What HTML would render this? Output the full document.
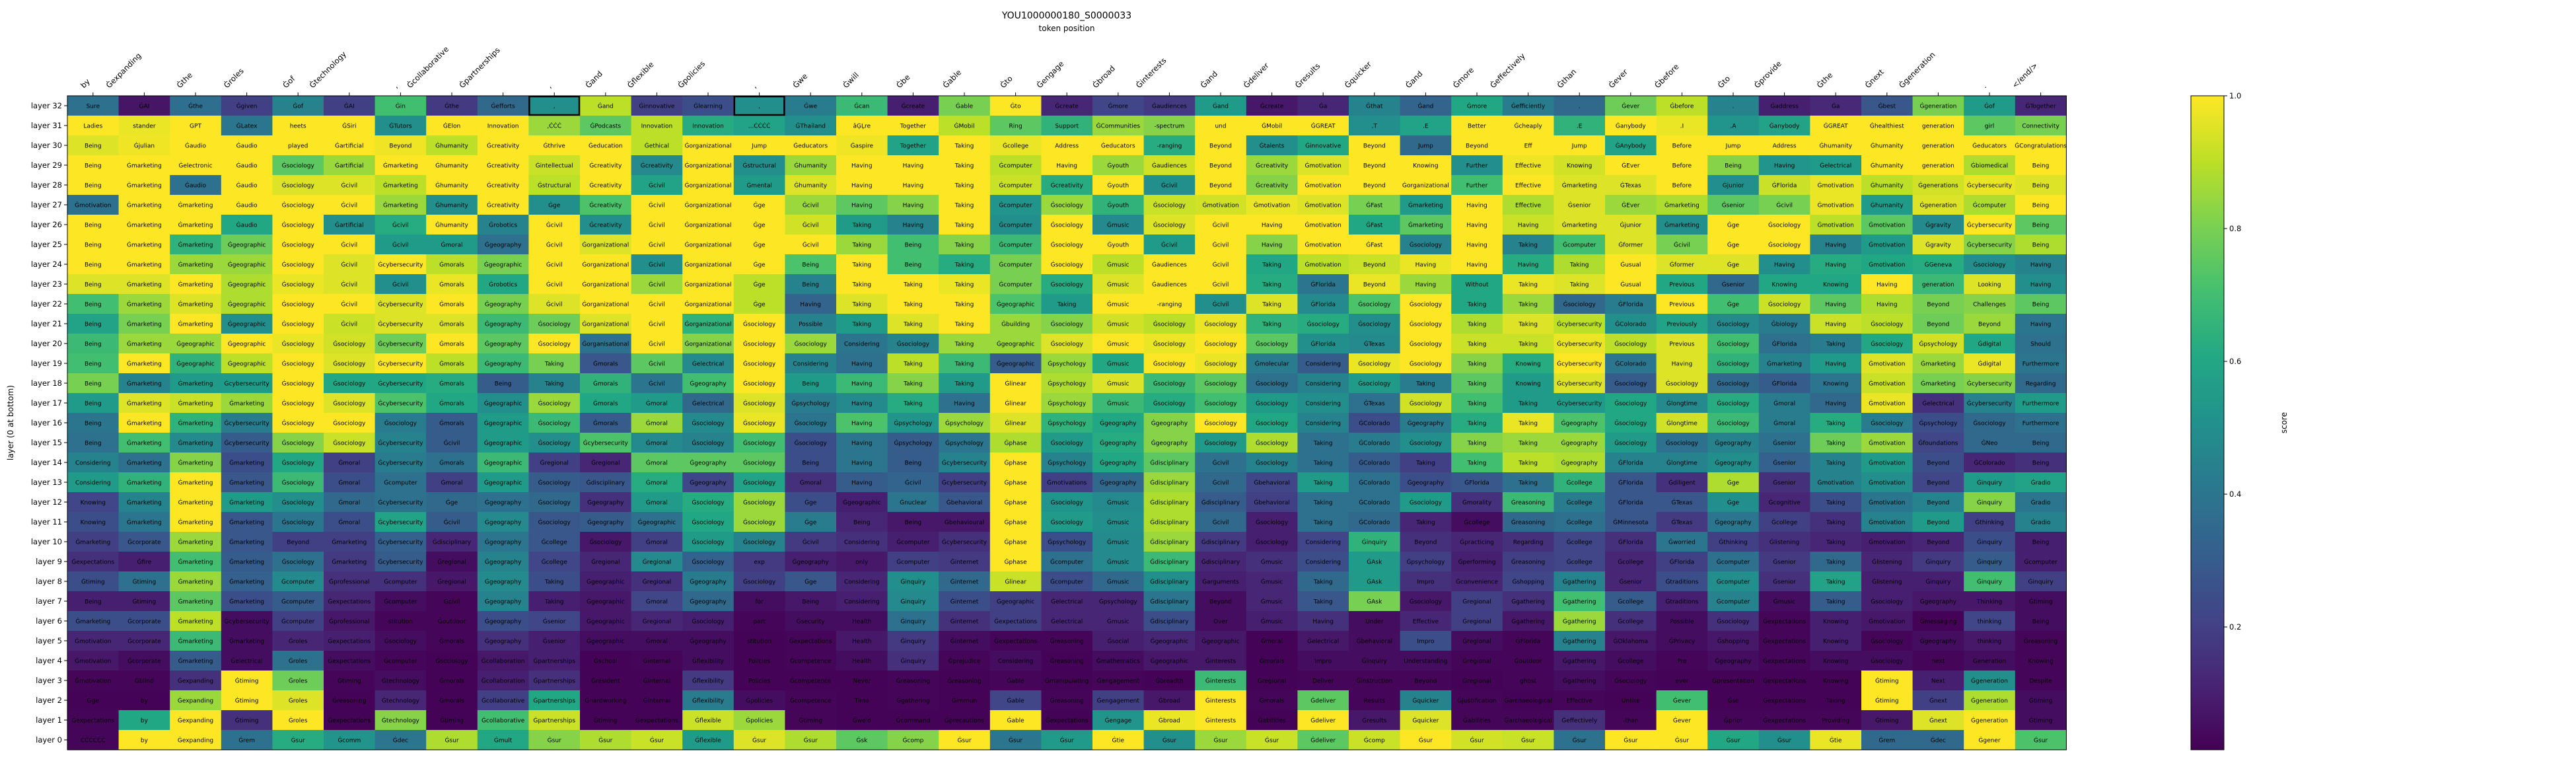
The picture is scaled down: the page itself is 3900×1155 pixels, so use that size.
<!DOCTYPE html>
<html><head><meta charset="utf-8"><title>YOU1000000180_S0000033</title>
<style>
html,body{margin:0;padding:0;background:#fff;}
svg{display:block;font-family:"DejaVu Sans","Liberation Sans",sans-serif;}
</style></head>
<body>
<svg id="chart" width="3900" height="1155" viewBox="0 0 3900 1155" xmlns="http://www.w3.org/2000/svg">
<text x="1615" y="28" font-size="14" text-anchor="middle">YOU1000000180_S0000033</text>
<text x="1615" y="47" font-size="12" text-anchor="middle">token position</text>
<text x="20" y="640" font-size="12" text-anchor="middle" transform="rotate(-90 20 640)">layer (0 at bottom)</text>
<text x="3462" y="640" font-size="12" text-anchor="middle" transform="rotate(-90 3462 640)">score</text>
<g id="cells"></g>
<g id="xlabels"></g>
<g id="ylabels"></g>
<g id="cbar"></g>
</svg>
<script>
const colTokens = ["by","Ġexpanding","Ġthe","Ġroles","Ġof","Ġtechnology",",","Ġcollaborative","Ġpartnerships",",","Ġand","Ġflexible","Ġpolicies",",","Ġwe","Ġwill","Ġbe","Ġable","Ġto","Ġengage","Ġbroad","Ġinterests","Ġand","Ġdeliver","Ġresults","Ġquicker","Ġand","Ġmore","Ġeffectively","Ġthan","Ġever","Ġbefore","Ġto","Ġprovide","Ġthe","Ġnext","Ġgeneration",".","</end/>"];
// rows listed from layer 32 (top) down to layer 0
const cellTokens = [
"Sure|ĠAI|Ġthe|Ġgiven|Ġof|ĠAI|Ġin|Ġthe|Ġefforts|,|Ġand|Ġinnovative|Ġlearning|,|Ġwe|Ġcan|Ġcreate|Ġable|Ġto|Ġcreate|Ġmore|Ġaudiences|Ġand|Ġcreate|Ġa|Ġthat|Ġand|Ġmore|Ġefficiently|.|Ġever|Ġbefore|.|Ġaddress|Ġa|Ġbest|Ġgeneration|Ġof|ĠTogether",
"Ladies|stander|GPT|ĠLatex|heets|ĠSiri|ĠTutors|ĠElon|Innovation|,ĊĊĊ|ĠPodcasts|Innovation|Innovation|...ĊĊĊĊ|ĠThailand|âĢĻre|Together|ĠMobil|Ring|Support|ĠCommunities|-spectrum|und|ĠMobil|ĠGREAT|.T|.E|Better|Ġcheaply|.E|Ġanybody|.I|.A|Ġanybody|ĠGREAT|Ġhealthiest|generation|girl|Connectivity",
"Being|Ġjulian|Ġaudio|Ġaudio|played|Ġartificial|Beyond|Ġhumanity|Ġcreativity|Ġthrive|Ġeducation|Ġethical|Ġorganizational|Jump|Ġeducators|Ġaspire|Together|Taking|Ġcollege|Address|Ġeducators|-ranging|Beyond|Ġtalents|Ġinnovative|Beyond|Jump|Beyond|Eff|Jump|ĠAnybody|Before|Jump|Address|Ġhumanity|Ġhumanity|generation|Ġeducators|ĠCongratulations",
"Being|Ġmarketing|Ġelectronic|Ġaudio|Ġsociology|Ġartificial|Ġmarketing|Ġhumanity|Ġcreativity|Ġintellectual|Ġcreativity|Ġcreativity|Ġorganizational|Ġstructural|Ġhumanity|Having|Having|Taking|Ġcomputer|Having|Ġyouth|Ġaudiences|Beyond|Ġcreativity|Ġmotivation|Beyond|Knowing|Further|Effective|Knowing|ĠEver|Before|Being|Having|Ġelectrical|Ġhumanity|generation|Ġbiomedical|Being",
"Being|Ġmarketing|Ġaudio|Ġaudio|Ġsociology|Ġcivil|Ġmarketing|Ġhumanity|Ġcreativity|Ġstructural|Ġcreativity|Ġcivil|Ġorganizational|Ġmental|Ġhumanity|Having|Having|Taking|Ġcomputer|Ġcreativity|Ġyouth|Ġcivil|Beyond|Ġcreativity|Ġmotivation|Beyond|Ġorganizational|Further|Effective|Ġmarketing|ĠTexas|Before|Ġjunior|ĠFlorida|Ġmotivation|Ġhumanity|Ġgenerations|Ġcybersecurity|Being",
"Ġmotivation|Ġmarketing|Ġmarketing|Ġaudio|Ġsociology|Ġcivil|Ġmarketing|Ġhumanity|Ġcreativity|Ġge|Ġcreativity|Ġcivil|Ġorganizational|Ġge|Ġcivil|Having|Having|Taking|Ġcomputer|Ġsociology|Ġyouth|Ġsociology|Ġmotivation|Ġmotivation|Ġmotivation|ĠFast|Ġmarketing|Having|Effective|Ġsenior|ĠEver|Ġmarketing|Ġsenior|Ġcivil|Ġmotivation|Ġhumanity|Ġgeneration|Ġcomputer|Being",
"Being|Ġmarketing|Ġmarketing|Ġaudio|Ġsociology|Ġartificial|Ġcivil|Ġhumanity|Ġrobotics|Ġcivil|Ġcreativity|Ġcivil|Ġorganizational|Ġge|Ġcivil|Taking|Having|Taking|Ġcomputer|Ġsociology|Ġmusic|Ġsociology|Ġcivil|Having|Ġmotivation|ĠFast|Ġmarketing|Having|Having|Ġmarketing|Ġjunior|Ġmarketing|Ġge|Ġsociology|Ġmotivation|Ġmotivation|Ġgravity|Ġcybersecurity|Being",
"Being|Ġmarketing|Ġmarketing|Ġgeographic|Ġsociology|Ġcivil|Ġcivil|Ġmoral|Ġgeography|Ġcivil|Ġorganizational|Ġcivil|Ġorganizational|Ġge|Ġcivil|Taking|Being|Taking|Ġcomputer|Ġsociology|Ġyouth|Ġcivil|Ġcivil|Having|Ġmotivation|ĠFast|Ġsociology|Having|Taking|Ġcomputer|Ġformer|Ġcivil|Ġge|Ġsociology|Having|Ġmotivation|Ġgravity|Ġcybersecurity|Being",
"Being|Ġmarketing|Ġmarketing|Ġgeographic|Ġsociology|Ġcivil|Ġcybersecurity|Ġmorals|Ġgeographic|Ġcivil|Ġorganizational|Ġcivil|Ġorganizational|Ġge|Being|Taking|Being|Taking|Ġcomputer|Ġsociology|Ġmusic|Ġaudiences|Ġcivil|Taking|Ġmotivation|Beyond|Having|Having|Having|Taking|Ġusual|Ġformer|Ġge|Having|Having|Ġmotivation|ĠGeneva|Ġsociology|Having",
"Being|Ġmarketing|Ġmarketing|Ġgeographic|Ġsociology|Ġcivil|Ġcivil|Ġmorals|Ġrobotics|Ġcivil|Ġorganizational|Ġcivil|Ġorganizational|Ġge|Being|Taking|Taking|Taking|Ġcomputer|Ġsociology|Ġmusic|Ġaudiences|Ġcivil|Taking|ĠFlorida|Beyond|Having|Without|Taking|Taking|Ġusual|Previous|Ġsenior|Knowing|Knowing|Having|generation|Looking|Having",
"Being|Ġmarketing|Ġmarketing|Ġgeographic|Ġsociology|Ġcivil|Ġcybersecurity|Ġmorals|Ġgeography|Ġcivil|Ġorganizational|Ġcivil|Ġorganizational|Ġge|Having|Taking|Taking|Taking|Ġgeographic|Taking|Ġmusic|-ranging|Ġcivil|Taking|ĠFlorida|Ġsociology|Ġsociology|Taking|Taking|Ġsociology|ĠFlorida|Previous|Ġge|Ġsociology|Having|Having|Beyond|Challenges|Being",
"Being|Ġmarketing|Ġmarketing|Ġgeographic|Ġsociology|Ġcivil|Ġcybersecurity|Ġmorals|Ġgeography|Ġsociology|Ġorganizational|Ġcivil|Ġorganizational|Ġsociology|Possible|Taking|Taking|Taking|Ġbuilding|Ġsociology|Ġmusic|Ġsociology|Ġsociology|Taking|Ġsociology|Ġsociology|Ġsociology|Taking|Taking|Ġcybersecurity|ĠColorado|Previously|Ġsociology|Ġbiology|Having|Ġsociology|Beyond|Beyond|Having",
"Being|Ġmarketing|Ġgeographic|Ġgeographic|Ġsociology|Ġsociology|Ġcybersecurity|Ġmorals|Ġgeography|Ġsociology|Ġorganisational|Ġcivil|Ġorganizational|Ġsociology|Ġsociology|Considering|Ġsociology|Taking|Ġgeographic|Ġsociology|Ġmusic|Ġsociology|Ġsociology|Ġsociology|ĠFlorida|ĠTexas|Ġsociology|Taking|Taking|Ġcybersecurity|Ġsociology|Previous|Ġsociology|ĠFlorida|Taking|Ġsociology|Ġpsychology|Ġdigital|Should",
"Being|Ġmarketing|Ġgeographic|Ġgeographic|Ġsociology|Ġsociology|Ġcybersecurity|Ġmorals|Ġgeography|Taking|Ġmorals|Ġcivil|Ġelectrical|Ġsociology|Considering|Having|Taking|Taking|Ġgeographic|Ġpsychology|Ġmusic|Ġsociology|Ġsociology|Ġmolecular|Considering|Ġsociology|Ġsociology|Taking|Knowing|Ġcybersecurity|ĠColorado|Having|Ġsociology|Ġmarketing|Having|Ġmotivation|Ġmarketing|Ġdigital|Furthermore",
"Being|Ġmarketing|Ġmarketing|Ġcybersecurity|Ġsociology|Ġsociology|Ġcybersecurity|Ġmorals|Being|Taking|Ġmorals|Ġcivil|Ġgeography|Ġsociology|Being|Having|Taking|Taking|Ġlinear|Ġpsychology|Ġmusic|Ġsociology|Ġsociology|Ġsociology|Considering|Ġsociology|Taking|Taking|Knowing|Ġcybersecurity|Ġsociology|Ġsociology|Ġsociology|ĠFlorida|Knowing|Ġmotivation|Ġmarketing|Ġcybersecurity|Regarding",
"Being|Ġmarketing|Ġmarketing|Ġmarketing|Ġsociology|Ġsociology|Ġcybersecurity|Ġmorals|Ġgeographic|Ġsociology|Ġmorals|Ġmoral|Ġelectrical|Ġsociology|Ġpsychology|Having|Taking|Having|Ġlinear|Ġpsychology|Ġmusic|Ġsociology|Ġsociology|Ġsociology|Considering|ĠTexas|Ġsociology|Taking|Taking|Ġcybersecurity|Ġsociology|Ġlongtime|Ġsociology|Ġmoral|Having|Ġmotivation|Ġelectrical|Ġcybersecurity|Furthermore",
"Being|Ġmarketing|Ġmarketing|Ġcybersecurity|Ġsociology|Ġsociology|Ġsociology|Ġmorals|Ġgeographic|Ġsociology|Ġmorals|Ġmoral|Ġsociology|Ġsociology|Ġsociology|Having|Ġpsychology|Ġpsychology|Ġlinear|Ġpsychology|Ġgeography|Ġgeography|Ġsociology|Ġsociology|Considering|ĠColorado|Ġgeography|Taking|Taking|Ġgeography|Ġsociology|Ġlongtime|Ġsociology|Ġmoral|Taking|Ġsociology|Ġpsychology|Ġsociology|Furthermore",
"Being|Ġmarketing|Ġmarketing|Ġcybersecurity|Ġsociology|Ġsociology|Ġcybersecurity|Ġcivil|Ġgeographic|Ġsociology|Ġcybersecurity|Ġmoral|Ġsociology|Ġsociology|Ġsociology|Having|Ġpsychology|Ġpsychology|Ġphase|Ġsociology|Ġgeography|Ġgeography|Ġsociology|Ġsociology|Taking|ĠColorado|Ġsociology|Taking|Taking|Ġgeography|Ġsociology|Ġsociology|Ġgeography|Ġsenior|Taking|Ġmotivation|Ġfoundations|ĠNeo|Being",
"Considering|Ġmarketing|Ġmarketing|Ġmarketing|Ġsociology|Ġmoral|Ġcybersecurity|Ġmorals|Ġgeographic|Ġregional|Ġregional|Ġmoral|Ġgeography|Ġsociology|Being|Having|Being|Ġcybersecurity|Ġphase|Ġpsychology|Ġgeography|Ġdisciplinary|Ġcivil|Ġsociology|Taking|ĠColorado|Taking|Taking|Taking|Ġgeography|ĠFlorida|Ġlongtime|Ġgeography|Ġsenior|Taking|Ġmotivation|Beyond|ĠColorado|Being",
"Considering|Ġmarketing|Ġmarketing|Ġmarketing|Ġsociology|Ġmoral|Ġcomputer|Ġmoral|Ġgeographic|Ġsociology|Ġdisciplinary|Ġmoral|Ġgeography|Ġsociology|Ġmoral|Having|Ġcivil|Ġcybersecurity|Ġphase|Ġmotivations|Ġgeography|Ġdisciplinary|Ġcivil|Ġbehavioral|Taking|ĠColorado|Ġgeography|ĠFlorida|Taking|Ġcollege|ĠFlorida|Ġdiligent|Ġge|Ġsenior|Ġmotivation|Ġmotivation|Beyond|Ġinquiry|Ġradio",
"Knowing|Ġmarketing|Ġmarketing|Ġmarketing|Ġsociology|Ġmoral|Ġcybersecurity|Ġge|Ġgeography|Ġsociology|Ġgeography|Ġmoral|Ġsociology|Ġsociology|Ġge|Ġgeographic|Ġnuclear|Ġbehavioral|Ġphase|Ġsociology|Ġmusic|Ġdisciplinary|Ġdisciplinary|Ġbehavioral|Taking|ĠColorado|Ġsociology|Ġmorality|Ġreasoning|Ġcollege|ĠFlorida|ĠTexas|Ġge|Ġcognitive|Taking|Ġmotivation|Beyond|Ġinquiry|Ġradio",
"Knowing|Ġmarketing|Ġmarketing|Ġmarketing|Ġsociology|Ġmoral|Ġcybersecurity|Ġcivil|Ġgeography|Ġsociology|Ġgeography|Ġgeographic|Ġsociology|Ġsociology|Ġge|Being|Being|Ġbehavioural|Ġphase|Ġsociology|Ġmusic|Ġdisciplinary|Ġcivil|Ġsociology|Taking|ĠColorado|Taking|Ġcollege|Ġreasoning|Ġcollege|ĠMinnesota|ĠTexas|Ġgeography|Ġcollege|Taking|Ġmotivation|Beyond|Ġthinking|Ġradio",
"Ġmarketing|Ġcorporate|Ġmarketing|Ġmarketing|Beyond|Ġmarketing|Ġcybersecurity|Ġdisciplinary|Ġgeography|Ġcollege|Ġsociology|Ġmoral|Ġsociology|Ġsociology|Ġcivil|Considering|Ġcomputer|Ġcybersecurity|Ġphase|Ġpsychology|Ġmusic|Ġdisciplinary|Ġdisciplinary|Ġsociology|Considering|Ġinquiry|Beyond|Ġpracticing|Regarding|Ġcollege|ĠFlorida|Ġworried|Ġthinking|Ġlistening|Taking|Ġmotivation|Beyond|Ġinquiry|Being",
"Ġexpectations|Ġfire|Ġmarketing|Ġmarketing|Ġsociology|Ġmarketing|Ġcybersecurity|Ġregional|Ġgeography|Ġcollege|Ġregional|Ġregional|Ġsociology|exp|Ġgeography|only|Ġcomputer|Ġinternet|Ġphase|Ġcomputer|Ġmusic|Ġdisciplinary|Ġdisciplinary|Ġmusic|Considering|ĠAsk|Ġpsychology|Ġperforming|Ġreasoning|Ġcollege|Ġcollege|ĠFlorida|Ġcomputer|Ġsenior|Taking|Ġlistening|Ġinquiry|Ġinquiry|Ġcomputer",
"Ġtiming|Ġtiming|Ġmarketing|Ġmarketing|Ġcomputer|Ġprofessional|Ġcomputer|Ġregional|Ġgeography|Taking|Ġgeographic|Ġregional|Ġgeography|Ġsociology|Ġge|Considering|Ġinquiry|Ġinternet|Ġlinear|Ġcomputer|Ġmusic|Ġdisciplinary|Ġarguments|Ġmusic|Taking|ĠAsk|Impro|Ġconvenience|Ġshopping|Ġgathering|Ġsenior|Ġtraditions|Ġcomputer|Ġsenior|Taking|Ġlistening|Ġinquiry|Ġinquiry|Ġinquiry",
"Being|Ġtiming|Ġmarketing|Ġmarketing|Ġcomputer|Ġexpectations|Ġcomputer|Ġcivil|Ġgeography|Taking|Ġgeographic|Ġmoral|Ġgeography|for|Being|Considering|Ġinquiry|Ġinternet|Ġgeographic|Ġelectrical|Ġpsychology|Ġdisciplinary|Beyond|Ġmusic|Taking|ĠAsk|Ġsociology|Ġregional|Ġgathering|Ġgathering|Ġcollege|Ġtraditions|Ġcomputer|Ġmusic|Taking|Ġsociology|Ġgeography|Thinking|Ġtiming",
"Ġmarketing|Ġcorporate|Ġmarketing|Ġcybersecurity|Ġcomputer|Ġprofessional|stitution|Ġoutdoor|Ġgeography|Ġsenior|Ġgeographic|Ġregional|Ġsociology|part|Ġsecurity|Health|Ġinquiry|Ġinternet|Ġexpectations|Ġelectrical|Ġmusic|Ġdisciplinary|Over|Ġmusic|Having|Under|Effective|Ġregional|Ġgathering|Ġgathering|Ġcollege|Possible|Ġsociology|Ġexpectations|Knowing|Ġmotivation|Ġmessaging|thinking|Being",
"Ġmotivation|Ġcorporate|Ġmarketing|Ġmarketing|Ġroles|Ġexpectations|Ġsociology|Ġmorals|Ġgeography|Ġsenior|Ġgeographic|Ġmoral|Ġgeography|stitution|Ġexpectations|Health|Ġinquiry|Ġinternet|Ġexpectations|Ġreasoning|Ġsocial|Ġgeographic|Ġgeographic|Ġmoral|Ġelectrical|Ġbehavioral|Impro|Ġregional|ĠFlorida|Ġgathering|ĠOklahoma|ĠPrivacy|Ġshopping|Ġexpectations|Knowing|Ġsociology|Ġgeography|thinking|Ġreasoning",
"Ġmotivation|Ġcorporate|Ġmarketing|Ġelectrical|Ġroles|Ġexpectations|Ġcomputer|Ġsociology|Ġcollaboration|Ġpartnerships|Ġschool|Ġinternal|Ġflexibility|Policies|Ġcompetence|Health|Ġinquiry|Ġprejudice|Considering|Ġreasoning|Ġmathematics|Ġgeographic|Ġinterests|Ġmorals|Impro|Ġinquiry|Understanding|Ġregional|Ġoutdoor|Ġgathering|Ġcollege|Pre|Ġgeography|Ġexpectations|Knowing|Ġsociology|next|Generation|Knowing",
"Ġmotivation|Ġblind|Ġexpanding|Ġtiming|Ġroles|Ġtiming|Ġtechnology|Ġmorals|Ġcollaboration|Ġpartnerships|Ġresident|Ġinternal|Ġflexibility|Policies|Ġcompetence|Never|Ġreasoning|Ġreasoning|Ġable|Ġmanipulating|Ġengagement|Ġbreadth|Ġinterests|Ġregional|Deliver|Ġinstruction|Beyond|Ġregional|ghost|Ġgathering|Ġsociology|ever|Ġpresentation|Ġexpectations|Knowing|Ġtiming|Next|Ġgeneration|Despite",
"Ġge|by|Ġexpanding|Ġtiming|Ġroles|Ġreasoning|Ġtechnology|Ġmorals|Ġcollaborative|Ġpartnerships|Ġhardworking|Ġinternal|Ġflexibility|Ġpolicies|Ġcompetence|Time|Ġgathering|Ġimmun|Ġable|Ġreasoning|Ġengagement|Ġbroad|Ġinterests|Ġmorals|Ġdeliver|Results|Ġquicker|Ġjustification|Ġarchaeological|Effective|Unlike|Ġever|Ġse|Ġexpectations|Taking|Ġtiming|Ġnext|Ġgeneration|Ġtiming",
"Ġexpectations|by|Ġexpanding|Ġtiming|Ġroles|Ġexpectations|Ġtechnology|Ġtiming|Ġcollaborative|Ġpartnerships|Ġtiming|Ġexpectations|Ġflexible|Ġpolicies|Ġtiming|Ġwe'd|Ġcommand|Ġprecautions|Ġable|Ġexpectations|Ġengage|Ġbroad|Ġinterests|Ġabilities|Ġdeliver|Ġresults|Ġquicker|Ġabilities|Ġarchaeological|Ġeffectively|-than|Ġever|Ġprior|Ġexpectations|Providing|Ġtiming|Ġnext|Ġgeneration|Ġtiming",
"ĊĊĊĊĊĊ|by|Ġexpanding|Ġrem|Ġsur|Ġcomm|Ġdec|Ġsur|Ġmult|Ġsur|Ġsur|Ġsur|Ġflexible|Ġsur|Ġsur|Ġsk|Ġcomp|Ġsur|Ġsur|Ġsur|Ġtie|Ġsur|Ġsur|Ġsur|Ġdeliver|Ġcomp|Ġsur|Ġsur|Ġsur|Ġsur|Ġsur|Ġsur|Ġsur|Ġsur|Ġtie|Ġrem|Ġdec|Ġgener|Ġsur"
];
const cellScores = [
[0.38,0.07,0.37,0.2,0.45,0.2,0.7,0.18,0.35,0.5,0.9,0.2,0.25,0.5,0.42,0.68,0.1,0.8,1.0,0.12,0.22,0.18,0.55,0.08,0.12,0.45,0.33,0.6,0.42,0.35,0.78,0.9,0.45,0.1,0.13,0.28,0.8,0.55,0.12],
[1.0,0.97,1.0,0.4,1.0,1.0,0.5,1.0,1.0,0.85,0.75,0.9,0.62,0.58,0.5,1.0,1.0,0.9,0.75,0.65,0.85,0.82,1.0,1.0,1.0,0.5,0.58,1.0,1.0,0.65,1.0,0.97,0.52,0.58,1.0,1.0,1.0,0.75,0.8],
[0.95,0.98,1.0,1.0,1.0,1.0,0.98,0.9,1.0,1.0,1.0,0.9,1.0,1.0,1.0,0.98,0.58,1.0,0.97,1.0,1.0,0.62,1.0,0.5,0.6,1.0,0.35,1.0,1.0,1.0,0.58,1.0,1.0,1.0,1.0,1.0,1.0,1.0,1.0],
[1.0,1.0,1.0,1.0,0.75,0.85,1.0,1.0,1.0,0.92,1.0,0.48,1.0,0.5,0.85,1.0,1.0,1.0,0.9,1.0,0.85,0.93,1.0,0.85,0.95,1.0,1.0,0.5,0.98,0.93,1.0,1.0,0.82,0.52,0.55,1.0,1.0,0.88,1.0],
[1.0,1.0,0.38,1.0,0.95,0.95,0.9,1.0,1.0,0.9,1.0,0.58,1.0,0.55,0.95,1.0,1.0,1.0,0.92,0.62,1.0,0.5,1.0,0.82,1.0,1.0,1.0,0.7,1.0,0.95,0.95,1.0,0.5,0.92,0.97,0.9,0.93,0.97,0.95],
[0.38,1.0,1.0,1.0,1.0,1.0,0.85,0.5,1.0,0.5,0.72,1.0,1.0,1.0,0.85,0.75,0.82,1.0,0.52,0.85,0.65,0.92,0.93,0.97,0.95,0.8,0.55,1.0,0.88,0.95,0.85,0.88,0.75,0.8,0.97,0.55,0.95,0.88,1.0],
[1.0,1.0,1.0,0.6,1.0,0.5,0.62,1.0,0.45,1.0,0.5,1.0,1.0,1.0,0.93,0.55,0.45,1.0,0.5,1.0,0.48,0.95,1.0,1.0,1.0,0.6,0.75,1.0,0.92,0.95,0.95,0.5,1.0,1.0,0.9,0.75,0.48,1.0,0.75],
[1.0,1.0,0.65,0.78,1.0,1.0,0.55,0.55,0.38,1.0,0.95,1.0,1.0,1.0,1.0,0.85,0.7,0.82,0.68,1.0,1.0,0.55,1.0,0.82,1.0,1.0,0.45,1.0,0.45,0.7,0.95,0.8,1.0,1.0,0.45,0.55,0.95,0.82,0.88],
[1.0,1.0,0.85,0.85,1.0,0.95,1.0,0.9,0.8,1.0,1.0,0.5,1.0,1.0,0.72,1.0,0.7,0.62,0.8,1.0,0.9,1.0,1.0,0.6,0.9,0.92,0.97,1.0,0.62,0.88,1.0,0.95,0.95,0.5,0.62,0.6,0.62,0.5,0.45],
[0.95,0.95,1.0,0.88,0.97,0.95,0.5,0.97,0.6,1.0,1.0,0.85,1.0,0.9,0.45,1.0,1.0,0.97,0.8,0.62,0.95,1.0,1.0,0.62,0.4,0.97,0.85,0.6,0.97,0.95,1.0,0.6,0.35,0.6,0.6,1.0,0.68,0.95,0.5],
[0.7,0.85,0.95,0.88,1.0,1.0,0.95,1.0,0.8,0.95,1.0,1.0,1.0,0.9,0.33,0.95,1.0,1.0,0.72,0.55,1.0,1.0,0.5,0.95,0.48,0.72,1.0,0.6,0.85,0.35,0.42,1.0,0.7,0.92,0.75,0.88,0.8,0.82,0.75],
[0.58,0.8,1.0,0.5,1.0,0.92,0.95,0.95,0.68,0.78,0.95,1.0,0.65,1.0,0.45,0.55,0.95,1.0,0.85,0.82,0.93,0.9,0.97,0.65,0.62,0.5,1.0,0.88,0.95,0.9,0.5,0.58,0.48,0.42,0.92,0.9,0.78,0.85,0.4],
[0.68,0.85,0.85,1.0,0.97,0.93,0.78,1.0,0.75,1.0,0.38,1.0,0.82,1.0,0.85,0.4,0.45,0.85,0.85,0.95,1.0,0.97,1.0,0.75,0.5,0.48,1.0,0.92,0.92,0.97,0.9,0.95,0.7,0.38,0.42,0.6,0.93,0.6,0.38],
[0.7,1.0,0.65,0.9,1.0,0.95,1.0,0.9,0.68,0.8,0.28,0.75,0.48,1.0,0.45,0.38,0.9,0.68,0.3,0.85,0.6,1.0,0.97,0.42,0.3,0.97,1.0,0.82,0.62,1.0,0.4,0.95,0.65,0.45,0.55,0.95,0.85,0.97,0.4],
[0.8,0.45,0.55,0.55,1.0,0.6,0.6,0.62,0.3,0.45,0.65,0.4,0.7,1.0,0.55,0.68,0.82,0.55,1.0,0.88,0.95,0.68,0.75,0.38,0.45,0.55,0.42,0.75,0.55,0.95,0.3,0.95,0.35,0.3,0.4,0.92,0.8,0.82,0.35],
[0.55,0.95,0.92,0.85,1.0,0.95,0.72,0.6,0.5,0.85,0.6,0.55,0.35,0.95,0.42,0.48,0.62,0.38,1.0,0.85,0.68,0.62,0.7,0.55,0.5,0.38,0.93,0.7,0.55,0.55,0.6,0.48,0.62,0.42,0.35,0.97,0.15,0.45,0.55],
[0.4,1.0,0.65,0.42,1.0,1.0,0.42,0.3,0.55,0.68,0.3,0.85,0.48,0.97,0.4,0.72,0.52,0.85,0.95,0.65,0.6,0.82,1.0,0.6,0.45,0.25,0.42,0.62,0.97,0.72,0.6,0.93,0.68,0.42,0.62,0.42,0.25,0.35,0.38],
[0.38,0.7,0.48,0.3,0.82,0.92,0.45,0.3,0.55,0.5,0.72,0.48,0.45,0.7,0.25,0.4,0.3,0.4,0.88,0.55,0.62,0.82,0.55,0.88,0.38,0.42,0.5,0.82,0.85,0.85,0.55,0.38,0.45,0.38,0.78,0.85,0.22,0.35,0.35],
[0.45,0.38,0.82,0.25,0.6,0.2,0.42,0.38,0.68,0.2,0.12,0.75,0.75,0.75,0.25,0.4,0.3,0.45,1.0,0.45,0.6,0.75,0.38,0.45,0.38,0.3,0.2,0.7,0.9,0.88,0.45,0.45,0.5,0.32,0.45,0.55,0.25,0.12,0.15],
[0.55,0.65,1.0,0.28,0.68,0.25,0.38,0.2,0.55,0.3,0.28,0.62,0.22,0.58,0.15,0.3,0.33,0.2,1.0,0.2,0.35,0.85,0.35,0.22,0.55,0.38,0.25,0.28,0.38,0.65,0.28,0.15,0.88,0.15,0.45,0.5,0.22,0.55,0.58],
[0.22,0.45,1.0,0.55,0.5,0.35,0.38,0.35,0.38,0.35,0.15,0.55,0.62,0.85,0.25,0.1,0.4,0.28,1.0,0.52,0.48,0.88,0.3,0.2,0.38,0.38,0.55,0.15,0.68,0.42,0.28,0.28,0.5,0.12,0.25,0.4,0.45,0.82,0.4],
[0.25,0.4,1.0,0.28,0.4,0.25,0.58,0.3,0.48,0.28,0.3,0.38,0.6,0.85,0.42,0.12,0.08,0.08,1.0,0.55,0.5,0.88,0.35,0.1,0.38,0.35,0.12,0.05,0.35,0.38,0.28,0.18,0.4,0.2,0.15,0.45,0.55,0.2,0.45],
[0.2,0.28,0.85,0.28,0.2,0.2,0.32,0.12,0.4,0.28,0.08,0.2,0.55,0.45,0.18,0.15,0.1,0.15,1.0,0.25,0.48,0.85,0.18,0.1,0.22,0.65,0.15,0.12,0.15,0.22,0.15,0.4,0.2,0.15,0.12,0.1,0.12,0.25,0.1],
[0.15,0.1,0.7,0.3,0.38,0.18,0.3,0.05,0.45,0.22,0.12,0.48,0.32,0.18,0.1,0.08,0.2,0.18,1.0,0.38,0.48,0.68,0.12,0.15,0.25,0.55,0.2,0.1,0.2,0.22,0.12,0.2,0.38,0.18,0.35,0.12,0.18,0.3,0.1],
[0.25,0.38,0.85,0.32,0.48,0.15,0.15,0.08,0.48,0.25,0.1,0.15,0.42,0.2,0.28,0.12,0.5,0.35,0.92,0.25,0.35,0.5,0.1,0.12,0.35,0.55,0.15,0.12,0.22,0.45,0.12,0.25,0.5,0.15,0.58,0.1,0.1,0.7,0.2],
[0.1,0.1,0.75,0.25,0.3,0.12,0.05,0.03,0.45,0.1,0.08,0.22,0.35,0.05,0.08,0.1,0.48,0.25,0.2,0.12,0.12,0.4,0.05,0.12,0.28,0.8,0.08,0.2,0.15,0.7,0.3,0.1,0.45,0.05,0.3,0.1,0.08,0.08,0.05],
[0.25,0.25,0.9,0.05,0.2,0.08,0.03,0.03,0.25,0.22,0.08,0.12,0.1,0.03,0.05,0.05,0.38,0.15,0.2,0.12,0.12,0.25,0.05,0.1,0.15,0.05,0.12,0.2,0.08,0.85,0.15,0.05,0.15,0.03,0.1,0.08,0.02,0.22,0.05],
[0.12,0.12,0.68,0.05,0.12,0.1,0.05,0.03,0.15,0.1,0.05,0.05,0.05,0.02,0.03,0.08,0.18,0.05,0.03,0.03,0.1,0.12,0.08,0.02,0.08,0.05,0.25,0.05,0.03,0.45,0.08,0.05,0.08,0.03,0.1,0.03,0.05,0.08,0.03],
[0.08,0.05,0.3,0.05,0.38,0.05,0.03,0.02,0.08,0.1,0.02,0.03,0.05,0.02,0.03,0.05,0.15,0.03,0.05,0.02,0.05,0.08,0.08,0.02,0.05,0.05,0.05,0.03,0.03,0.08,0.05,0.03,0.05,0.03,0.05,0.05,0.03,0.05,0.03],
[0.03,0.03,0.15,1.0,0.78,0.03,0.05,0.02,0.1,0.15,0.02,0.02,0.18,0.02,0.02,0.02,0.03,0.02,0.03,0.02,0.03,0.02,0.68,0.02,0.03,0.03,0.03,0.02,0.03,0.05,0.03,0.02,0.02,0.02,0.02,1.0,0.1,0.5,0.03],
[0.02,0.02,0.85,1.0,0.95,0.02,0.12,0.02,0.2,0.6,0.02,0.02,0.42,0.05,0.03,0.02,0.03,0.02,0.22,0.03,0.2,0.08,1.0,0.03,0.75,0.03,0.45,0.03,0.02,0.03,0.02,0.7,0.02,0.02,0.02,1.0,0.2,0.88,0.05],
[0.03,0.6,1.0,0.15,1.0,0.02,0.82,0.02,0.7,0.92,0.02,0.02,0.92,0.85,0.03,0.02,0.02,0.02,1.0,0.02,0.52,0.97,1.0,0.02,1.0,0.08,0.95,0.03,0.03,0.15,0.03,1.0,0.03,0.03,0.03,0.08,0.95,1.0,0.05],
[0.03,1.0,1.0,0.38,0.62,0.52,0.4,0.88,0.6,0.82,0.88,0.92,0.55,0.95,0.88,0.75,0.82,1.0,0.4,0.55,1.0,0.5,0.85,0.92,0.75,0.92,1.0,0.93,0.92,0.38,1.0,1.0,0.6,0.5,0.97,0.35,0.35,1.0,0.72]
];
const boxedCells = [[32,9],[32,13]];
const cbarTicks = [0.2,0.4,0.6,0.8,1.0];
const cbarTickLabels = ["0.2","0.4","0.6","0.8","1.0"];

const NS = "http://www.w3.org/2000/svg";
const X0 = 102, CW = 77.6, Y0 = 145, RH = 30, NL = 33;
const VMIN = 0.015, VMAX = 1.0;
const VIR = ["#440154","#482475","#414487","#355f8d","#2a788e","#21918c","#22a884","#44bf70","#7ad151","#bddf26","#fde725"];
function hex2rgb(h){return [parseInt(h.slice(1,3),16),parseInt(h.slice(3,5),16),parseInt(h.slice(5,7),16)];}
function viridis(v){
  let t=(v-VMIN)/(VMAX-VMIN); t=Math.max(0,Math.min(1,t));
  const p=t*10, i=Math.min(9,Math.floor(p)), f=p-i;
  const a=hex2rgb(VIR[i]), b=hex2rgb(VIR[i+1]);
  return "rgb("+a.map((c,k)=>Math.round(c+(b[k]-c)*f)).join(",")+")";
}
function xScale(col){return X0+col*CW;}
function yScale(layer){return Y0+(NL-1-layer)*RH;}
function cbarY(v){return 1135-(v-VMIN)/(VMAX-VMIN)*990;}
function mk(tag,attrs,parent){const e=document.createElementNS(NS,tag);for(const k in attrs)e.setAttribute(k,attrs[k]);parent.appendChild(e);return e;}

const gCells=document.getElementById("cells");
cellTokens.forEach((rowStr,ri)=>{
  const layer=NL-1-ri;
  const toks=rowStr.split("|");
  toks.forEach((tok,ci)=>{
    const v=cellScores[ri][ci];
    const r=mk("rect",{x:xScale(ci),y:yScale(layer),width:CW+0.6,height:RH+0.6,fill:viridis(v)},gCells);
    
    
    const t=mk("text",{x:xScale(ci)+CW/2,y:yScale(layer)+RH/2+3.5,"font-size":"9","text-anchor":"middle",fill:"#000"},gCells);
    
    
    t.textContent=tok;
  });
});
boxedCells.forEach(([layer,col])=>{
  const b=mk("rect",{x:xScale(col)+1,y:yScale(layer)+1,width:CW-2,height:RH-2,fill:"none",stroke:"#000","stroke-width":"2.5"},gCells);
  
  
});
const frame=mk("rect",{x:X0,y:Y0,width:CW*39,height:RH*NL,fill:"none",stroke:"#000","stroke-width":"1"},gCells);



const gX=document.getElementById("xlabels");
colTokens.forEach((tok,ci)=>{
  const cx=xScale(ci)+CW/2;
  const tk=mk("line",{x1:cx,y1:Y0,x2:cx,y2:Y0-5,stroke:"#000","stroke-width":"1"},gX);
  
  
  const t=mk("text",{x:0,y:0,"font-size":"11.5","text-anchor":"start"},gX);
  
  
  t.textContent=tok;
  const L=t.getComputedTextLength();
  const sx=cx-L*0.7071-4, sy=134;
  t.setAttribute("transform","translate("+sx+","+sy+") rotate(-45)");
});

const gY=document.getElementById("ylabels");
for(let layer=0;layer<NL;layer++){
  const cy=yScale(layer)+RH/2;
  const tk=mk("line",{x1:X0,y1:cy,x2:X0-5,y2:cy,stroke:"#000","stroke-width":"1"},gY);
  
  
  const t=mk("text",{x:X0-8,y:cy+4,"font-size":"11.5","text-anchor":"end"},gY);
  
  
  t.textContent="layer "+layer;
}

const gC=document.getElementById("cbar");
const defs=mk("defs",{},gC);
const grad=mk("linearGradient",{id:"vgrad",x1:"0",y1:"1",x2:"0",y2:"0"},defs);
VIR.forEach((c,i)=>{mk("stop",{offset:(i*10)+"%","stop-color":c},grad);});
const cb=mk("rect",{x:3317,y:145,width:50,height:990,fill:"url(#vgrad)",stroke:"#000","stroke-width":"1"},gC);


cbarTicks.forEach((v,i)=>{
  const y=cbarY(v);
  const l=mk("line",{x1:3367,y1:y,x2:3372,y2:y,stroke:"#000","stroke-width":"1"},gC);
  
  
  const t=mk("text",{x:3375,y:y+4,"font-size":"11.5"},gC);
  
  
  t.textContent=cbarTickLabels[i];
});
</script>
</body></html>
